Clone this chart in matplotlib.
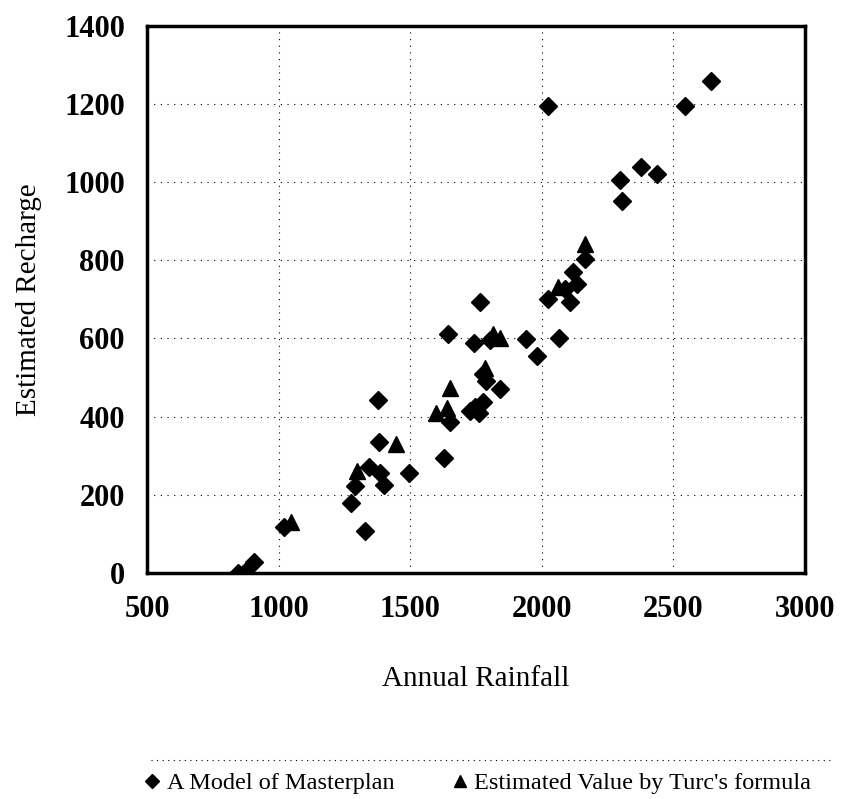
import matplotlib
matplotlib.use("Agg")
import matplotlib.pyplot as plt
from matplotlib.lines import Line2D

# Data
master_x = [845, 870, 905, 1020, 1329, 1276, 1289, 1399, 1342, 1386, 1494, 1380, 1376,
            1627, 1652, 1643, 1728, 1745, 1760, 1775, 1778, 1788, 1841, 1743, 1766,
            1804, 1940, 1981, 2066, 2025, 2088, 2107, 2120, 2133, 2164,
            2023, 2297, 2306, 2377, 2437, 2545, 2645]
master_y = [0, 2, 28, 118, 107, 178, 223, 224, 270, 255, 255, 334, 442,
            293, 386, 611, 415, 425, 408, 438, 510, 490, 470, 588, 692,
            596, 598, 555, 600, 701, 727, 692, 769, 740, 803,
            1193, 1004, 952, 1038, 1021, 1193, 1258]

turc_x = [1045, 1298, 1446, 1598, 1639, 1652, 1785, 1815, 1842, 2063, 2164]
turc_y = [130, 261, 329, 410, 423, 474, 525, 610, 600, 731, 841]

xticks = [500, 1000, 1500, 2000, 2500, 3000]
yticks = [0, 200, 400, 600, 800, 1000, 1200, 1400]

plt.rcParams['font.family'] = ['Liberation Serif', 'DejaVu Serif']

fig = plt.figure(figsize=(8.41, 7.99), dpi=100)
ax = fig.add_axes([0.175, 0.283, 0.782, 0.685])

ax.plot(master_x, master_y, linestyle='none', marker='D', markersize=9,
        color='black', label='A Model of Masterplan')
ax.plot(turc_x, turc_y, linestyle='none', marker='^', markersize=11,
        color='black', label="Estimated Value by Turc's formula")

ax.set_xlim(500, 3000)
ax.set_ylim(0, 1400)
ax.set_xticks(xticks)
ax.set_yticks(yticks)
ax.tick_params(length=0, labelsize=22, pad=16)
for lab in ax.get_xticklabels() + ax.get_yticklabels():
    lab.set_fontweight('bold')
ax.grid(True, color='black', linestyle=(0, (1, 5)), linewidth=0.8)
for s in ax.spines.values():
    s.set_linewidth(2.5)

ax.set_xlabel('Annual Rainfall', fontsize=21, labelpad=30)
ax.set_ylabel('Estimated Recharge', fontsize=21, labelpad=16)

# dotted separator above legend
ysep = 1 - 760 / 799
fig.add_artist(Line2D([0.18, 0.99], [ysep, ysep], transform=fig.transFigure,
                      color='black', linestyle=(0, (1, 4)), linewidth=0.8))

handles, labels = ax.get_legend_handles_labels()
leg = fig.legend(handles, labels, loc='center left', bbox_to_anchor=(0.172, 1 - 783 / 799),
                 ncol=2, frameon=False, fontsize=17.5, handlelength=0.6,
                 handletextpad=0.3, columnspacing=2.4, markerscale=0.75,
                 borderaxespad=0, borderpad=0)

fig.savefig('out.png', dpi=100)
